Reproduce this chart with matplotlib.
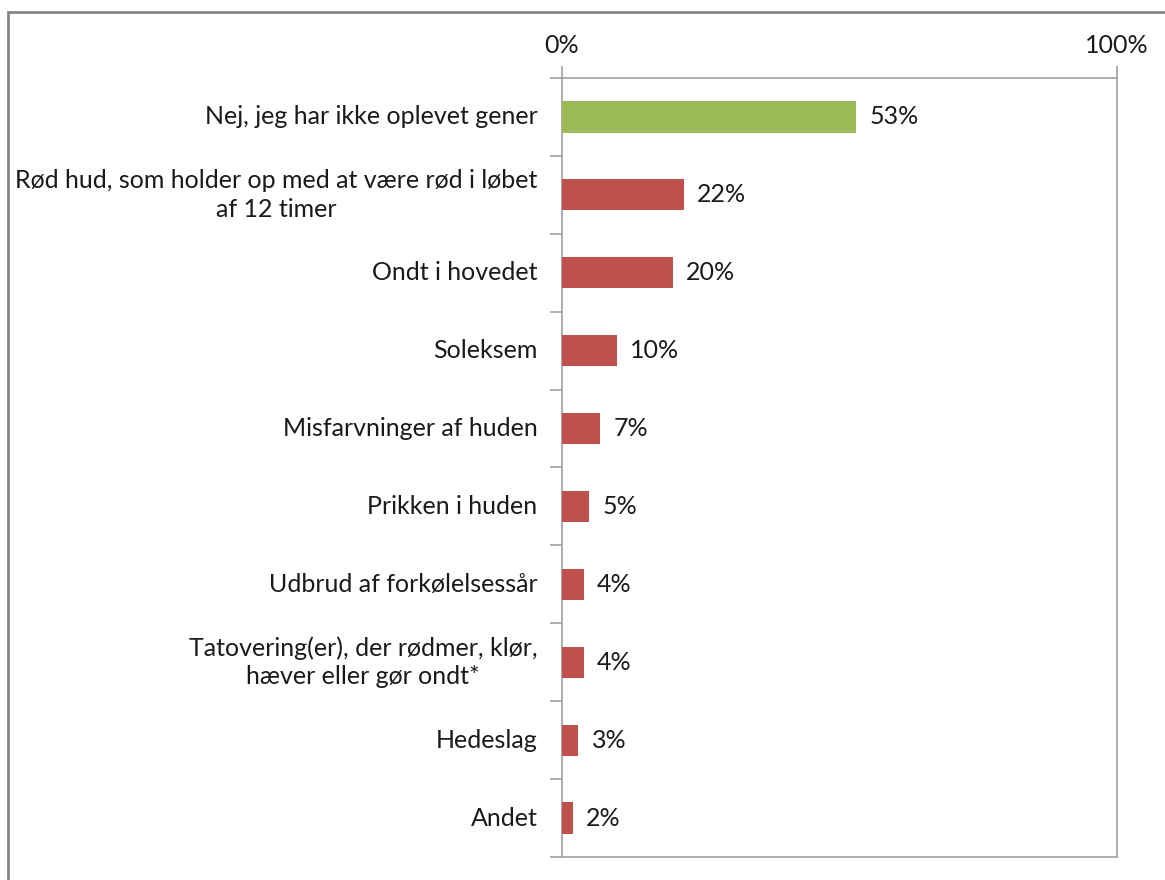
import matplotlib
matplotlib.use("Agg")
import matplotlib.pyplot as plt
from matplotlib.patches import Rectangle

categories = [
    "Nej, jeg har ikke oplevet gener",
    "Rød hud, som holder op med at være rød i løbet\naf 12 timer",
    "Ondt i hovedet",
    "Soleksem",
    "Misfarvninger af huden",
    "Prikken i huden",
    "Udbrud af forkølelsessår",
    "Tatovering(er), der rødmer, klør,\nhæver eller gør ondt*",
    "Hedeslag",
    "Andet",
]
values = [53, 22, 20, 10, 7, 5, 4, 4, 3, 2]
colors = ["#9BBB59"] + ["#C0504D"] * 9
xtick_vals = [0, 100]
xtick_labels = ["0%", "100%"]

plt.rcParams['font.family'] = ['Lato', 'DejaVu Sans']
FS = 18
TC = "#1a1a1a"

W, H = 1165, 880
fig = plt.figure(figsize=(W / 100, H / 100), dpi=100)
ax = fig.add_axes([561.5 / W, 1 - 857 / H, (1117 - 561.5) / W, (857 - 78) / H])

n = len(categories)
ypos = list(range(n))
ax.barh(ypos, values, height=0.4, color=colors, zorder=3)
ax.set_ylim(n - 0.5, -0.5)
ax.set_xlim(0, 100)

for y, v in zip(ypos, values):
    ax.text(v + 2.4, y, f"{v}%", va="center", ha="left", fontsize=FS, color=TC)

ax.xaxis.tick_top()
ax.set_xticks(xtick_vals)
ax.set_xticklabels(xtick_labels, fontsize=FS, color=TC)
ax.tick_params(axis="x", direction="out", length=9, width=1.2, color="#A0A0A0", pad=6)

ax.set_yticks([i - 0.5 for i in range(n + 1)])
ax.set_yticklabels([])
ax.tick_params(axis="y", direction="out", length=9, width=1.2, color="#A0A0A0")
for y, lab in zip(ypos, categories):
    ax.text(-4.3, y, lab, va="center", ha="right", multialignment="center",
            fontsize=FS, color=TC, linespacing=1.3)

for s in ["top", "left", "bottom", "right"]:
    ax.spines[s].set_color("#A0A0A0")
    ax.spines[s].set_linewidth(1.2)
ax.grid(False)

# outer chart border
fig.patches.append(Rectangle((8 / W, -0.1), 1.2, 1 - 12 / H + 0.1, transform=fig.transFigure,
                             fill=False, edgecolor="#868686", linewidth=2))

fig.savefig("out.png", dpi=100)
